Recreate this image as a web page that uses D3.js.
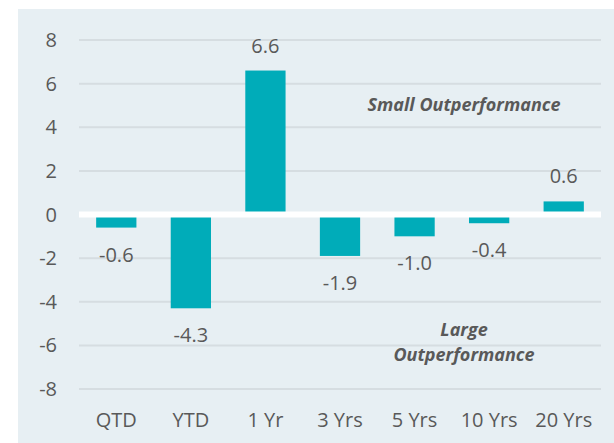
<!DOCTYPE html>
<html>
<head>
<meta charset="utf-8">
<script src="https://cdn.jsdelivr.net/npm/d3@7"></script>
<style>
  body { margin: 0; background: #fff; }
  svg { display: block; font-family: "Open Sans", sans-serif; }
</style>
</head>
<body>
<div id="vis"></div>
<script>
// chart data
const periods = ['QTD', 'YTD', '1 Yr', '3 Yrs', '5 Yrs', '10 Yrs', '20 Yrs']
const values = [-0.6, -4.3, 6.6, -1.9, -1.0, -0.4, 0.6]
const yTicks = [-8, -6, -4, -2, 0, 2, 4, 6, 8]
const noteTop = ['Small Outperformance']
const noteBottom = ['Large', 'Outperformance']

const W = 614, H = 443
const plot = { left: 79, right: 601, top: 40, bottom: 389 }
const barColor = '#00acb9'
const textColor = '#595959'

const svg = d3.select('#vis')
    .append('svg')
    .attr('width', W)
    .attr('height', H)

// panel background
svg.append('rect')
    .attr('x', 18).attr('y', 9)
    .attr('width', W - 18).attr('height', H - 9)
    .attr('fill', '#e7eff3')

const xScale = d3.scaleBand()
    .domain(periods)
    .range([plot.left, plot.right])
    .paddingInner(0.46)
    .paddingOuter(0.23)

const yScale = d3.scaleLinear()
    .domain([-8, 8])
    .range([plot.bottom, plot.top])

// gridlines
svg.append('g')
    .selectAll('line')
    .data(yTicks.filter(d => d !== 0))
    .join('line')
    .attr('x1', plot.left).attr('x2', plot.right)
    .attr('y1', d => yScale(d)).attr('y2', d => yScale(d))
    .attr('stroke', '#d6dde1')
    .attr('stroke-width', 2)

// y tick labels
svg.append('g')
    .selectAll('text')
    .data(yTicks)
    .join('text')
    .attr('x', 57)
    .attr('y', d => yScale(d) + 7)
    .attr('text-anchor', 'end')
    .style('font-size', '20px')
    .style('fill', textColor)
    .text(d => d)

// bars
const data = periods.map((p, i) => ({ period: p, value: values[i] }))
svg.append('g')
    .selectAll('rect')
    .data(data)
    .join('rect')
    .attr('x', d => xScale(d.period))
    .attr('width', xScale.bandwidth())
    .attr('y', d => yScale(Math.max(0, d.value)))
    .attr('height', d => Math.abs(yScale(d.value) - yScale(0)))
    .attr('fill', barColor)

// zero line (white band over the bars)
svg.append('line')
    .attr('x1', plot.left).attr('x2', plot.right)
    .attr('y1', yScale(0)).attr('y2', yScale(0))
    .attr('stroke', '#fff')
    .attr('stroke-width', 6)

// value labels (plain hyphen for the minus, like the original)
svg.append('g')
    .selectAll('text')
    .data(data)
    .join('text')
    .attr('x', d => xScale(d.period) + xScale.bandwidth() / 2)
    .attr('y', d => d.value >= 0 ? yScale(d.value) - 18 : yScale(d.value) + 34)
    .attr('text-anchor', 'middle')
    .style('font-size', '20px')
    .style('fill', textColor)
    .text(d => d.value.toFixed(1))

// x category labels
svg.append('g')
    .selectAll('text')
    .data(periods)
    .join('text')
    .attr('x', d => xScale(d) + xScale.bandwidth() / 2)
    .attr('y', 427)
    .attr('text-anchor', 'middle')
    .style('font-size', '20px')
    .style('fill', textColor)
    .text(d => d)

// annotations
svg.append('g')
    .selectAll('text')
    .data(noteTop)
    .join('text')
    .attr('x', 464)
    .attr('y', 111)
    .attr('text-anchor', 'middle')
    .style('font-size', '18px')
    .style('font-weight', 'bold')
    .style('font-style', 'italic')
    .style('fill', textColor)
    .text(d => d)

svg.append('g')
    .selectAll('text')
    .data(noteBottom)
    .join('text')
    .attr('x', 464)
    .attr('y', (d, i) => 336 + i * 25)
    .attr('text-anchor', 'middle')
    .style('font-size', '18px')
    .style('font-weight', 'bold')
    .style('font-style', 'italic')
    .style('fill', textColor)
    .text(d => d)
</script>
</body>
</html>
